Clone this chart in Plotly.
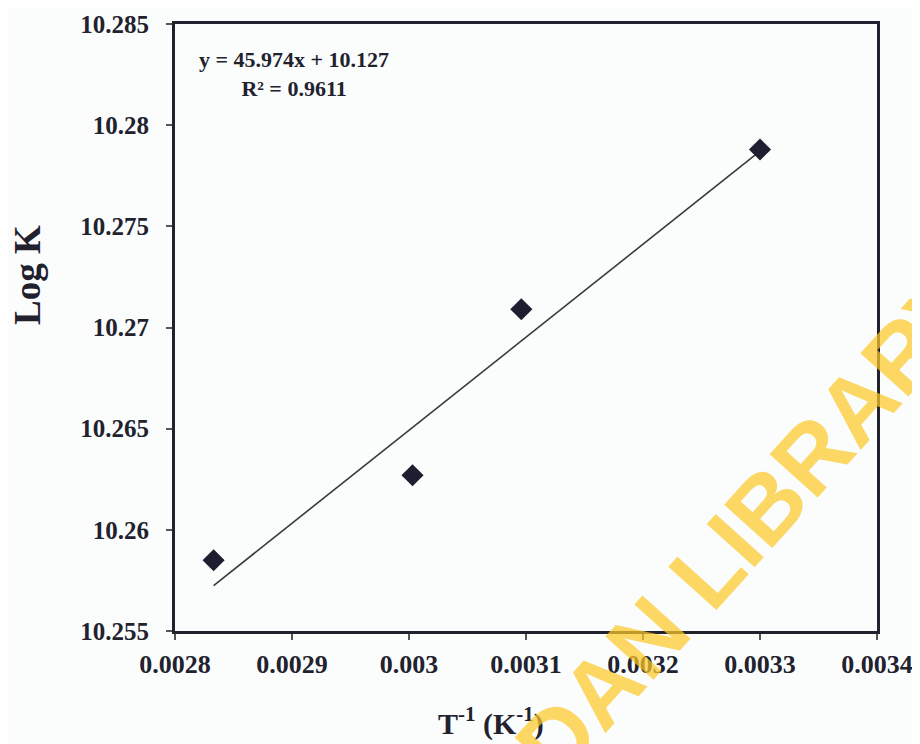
import plotly.graph_objects as go

# Data
inv_T = [0.002833, 0.003003, 0.003096, 0.0033]
log_K = [10.2585, 10.2627, 10.2709, 10.2788]

# Trend line coefficients (shown on chart)
slope = 45.974
intercept = 10.127
r_squared = 0.9611

x_tickvals = [0.0028, 0.0029, 0.003, 0.0031, 0.0032, 0.0033, 0.0034]
x_ticktext = ["0.0028", "0.0029", "0.003", "0.0031", "0.0032", "0.0033", "0.0034"]
y_tickvals = [10.255, 10.26, 10.265, 10.27, 10.275, 10.28, 10.285]
y_ticktext = ["10.255", "10.26", "10.265", "10.27", "10.275", "10.28", "10.285"]

trend_x = [min(inv_T), max(inv_T)]
trend_y = [slope * v + intercept for v in trend_x]

ink = "#22222e"
serif = "Liberation Serif"

fig = go.Figure()
fig.add_trace(go.Scatter(x=trend_x, y=trend_y, mode="lines",
                         line=dict(color="#3a3a3a", width=1.6), showlegend=False))
fig.add_trace(go.Scatter(x=inv_T, y=log_K, mode="markers",
                         marker=dict(symbol="diamond", size=17, color="#1e1e30"),
                         showlegend=False))

axis_common = dict(showline=True, linecolor=ink, linewidth=3, mirror=True,
                   showgrid=False, zeroline=False, ticks="outside", ticklen=6,
                   tickwidth=1.5, tickcolor="#555", automargin=False)

fig.update_xaxes(range=[0.0028, 0.0034], tickvals=x_tickvals, ticktext=x_ticktext,
                 ticklabelstandoff=2,
                 tickfont=dict(family=serif, size=26, color=ink, weight="bold"),
                 **axis_common)
fig.update_yaxes(range=[10.255, 10.285], tickvals=y_tickvals, ticktext=y_ticktext,
                 ticklabelstandoff=12,
                 tickfont=dict(family=serif, size=25, color=ink, weight="bold"),
                 **axis_common)

fig.add_annotation(xref="paper", yref="paper", x=0.1695, y=0.9176,
                   xanchor="center", yanchor="middle", align="center", showarrow=False,
                   text=f"y = {slope}x + {intercept}<br>R² = {r_squared}",
                   font=dict(family=serif, size=22, color=ink, weight="bold"))
fig.add_annotation(xref="paper", yref="paper", x=-0.2094, y=0.5865, textangle=-90,
                   xanchor="center", yanchor="middle", showarrow=False,
                   text="Log K", font=dict(family=serif, size=37, color=ink, weight="bold"))
fig.add_annotation(xref="paper", yref="paper", x=0.450, y=-0.149,
                   xanchor="center", yanchor="middle", showarrow=False,
                   text="T<sup>-1</sup> (K<sup>-1</sup>)",
                   font=dict(family=serif, size=30, color=ink, weight="bold"))
# Watermark
fig.add_annotation(xref="paper", yref="paper", x=0.742, y=0.0758, textangle=-48,
                   xanchor="center", yanchor="middle", showarrow=False,
                   text="IBADAN LIBRARY",
                   font=dict(family="Liberation Sans", size=94,
                             color="rgba(252,200,40,0.72)", weight="bold"))

# The page puts the figure 8 px in from the window's top-left corner
fig.update_layout(width=912, height=736, margin=dict(l=167, r=43, t=16, b=113),
                  paper_bgcolor="#fbfdfd", plot_bgcolor="#fbfdfd")

fig.write_html("out.html")
